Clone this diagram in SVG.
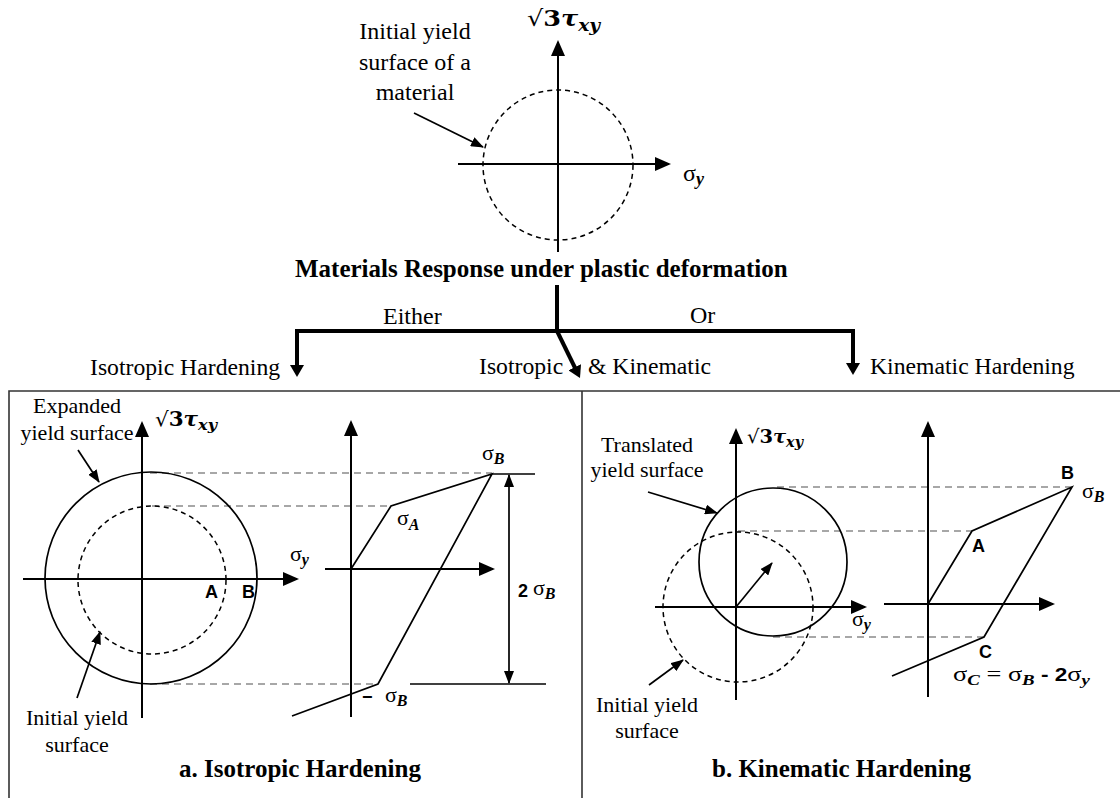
<svg xmlns="http://www.w3.org/2000/svg" width="1120" height="798" viewBox="0 0 1120 798">
<style>
.tx{font-family:"Liberation Serif","Times New Roman",serif;fill:#000}
.b{font-weight:bold}
.c{text-anchor:middle}
.sa{font-family:"Liberation Sans",Arial,sans-serif;font-weight:bold;fill:#000}
.m{font-family:"DejaVu Serif","Liberation Serif",serif;fill:#000}
.sub{font-family:"Liberation Serif","Times New Roman",serif;font-weight:bold;font-style:italic}
.ax{stroke:#000;stroke-width:2;fill:none}
.ln{stroke:#000;stroke-width:1.7;fill:none}
.dc{stroke:#000;stroke-width:1.5;fill:none;stroke-dasharray:5 4}
.gd{stroke:#8a8a8a;stroke-width:1.5;fill:none;stroke-dasharray:7 5}
.th{stroke:#000;stroke-width:4;fill:none}
.bx{stroke:#333;stroke-width:1.6;fill:none}
</style>
<defs>
<marker id="ax" markerUnits="userSpaceOnUse" markerWidth="16" markerHeight="14" refX="14" refY="7" orient="auto"><path d="M0,0 L16,7 L0,14 z" fill="#000"/></marker>
<marker id="sm" markerUnits="userSpaceOnUse" markerWidth="13" markerHeight="10" refX="12" refY="5" orient="auto"><path d="M0,0 L13,5 L0,10 z" fill="#000"/></marker>
<marker id="dbl" markerUnits="userSpaceOnUse" markerWidth="13" markerHeight="10" refX="12" refY="5" orient="auto-start-reverse"><path d="M0,0 L13,5 L0,10 z" fill="#000"/></marker>
<marker id="big" markerUnits="userSpaceOnUse" markerWidth="12" markerHeight="14" refX="2" refY="7" orient="auto"><path d="M0,0 L12,7 L0,14 z" fill="#000"/></marker>
</defs>

<!-- Top: initial yield surface -->
<g id="top-diagram">
  <line class="ax" x1="558" y1="252" x2="558" y2="42" marker-end="url(#ax)"/>
  <line class="ax" x1="458" y1="164" x2="669" y2="164" marker-end="url(#ax)"/>
  <circle class="dc" cx="558" cy="165" r="75"/>
  <text class="m" x="527" y="26" font-size="22" textLength="73" lengthAdjust="spacingAndGlyphs">√<tspan font-weight="bold">3</tspan><tspan font-weight="bold" font-style="italic">τ</tspan><tspan font-weight="bold" font-style="italic" font-size="16" dy="5">xy</tspan></text>
  <text class="tx" x="683" y="181" font-size="24">σ<tspan class="sub" font-size="18" dy="4">y</tspan></text>
  <text class="tx c" x="415" y="39" font-size="24">Initial yield</text>
  <text class="tx c" x="415" y="70" font-size="24">surface of a</text>
  <text class="tx c" x="415" y="100" font-size="24">material</text>
  <line class="ln" x1="414" y1="113" x2="483" y2="147" marker-end="url(#sm)"/>
</g>

<g id="title">
  <text class="tx b" x="295" y="277" font-size="25">Materials Response under plastic deformation</text>
</g>

<g id="branch-labels">
  <text class="tx" x="383" y="324" font-size="24">Either</text>
  <text class="tx" x="690" y="323" font-size="24">Or</text>
  <text class="tx" x="90" y="375" font-size="23.7">Isotropic Hardening</text>
  <text class="tx" x="479" y="374" font-size="23.7">Isotropic</text>
  <text class="tx" x="588" y="374" font-size="23.7">&amp; Kinematic</text>
  <text class="tx" x="870" y="374" font-size="23.7">Kinematic Hardening</text>
</g>

<g id="connectors">
  <line class="th" x1="557" y1="285" x2="557" y2="333"/>
  <line class="th" x1="295" y1="331" x2="855" y2="331"/>
  <line class="th" x1="297" y1="329" x2="297" y2="367" marker-end="url(#big)"/>
  <line class="th" x1="853" y1="329" x2="853" y2="365" marker-end="url(#big)"/>
  <line class="th" x1="557" y1="331" x2="575.6" y2="369" marker-end="url(#big)"/>
</g>

<g id="frames">
  <path class="bx" d="M9,800 V391 H1120"/>
  <path class="bx" d="M582,391 V800"/>
</g>

<!-- Panel a: isotropic hardening -->
<g id="panel-a-yield">
  <line class="gd" x1="150" y1="473" x2="492" y2="473"/>
  <line class="gd" x1="152" y1="506" x2="391" y2="506"/>
  <line class="gd" x1="150" y1="684" x2="378" y2="684"/>
  <line class="ax" x1="142" y1="718" x2="142" y2="423" marker-end="url(#ax)"/>
  <line class="ax" x1="23" y1="579" x2="297" y2="579" marker-end="url(#ax)"/>
  <circle class="ln" cx="151" cy="578" r="106"/>
  <circle class="dc" cx="152" cy="580" r="74"/>
  <text class="m" x="155" y="426" font-size="20" textLength="62" lengthAdjust="spacingAndGlyphs">√<tspan font-weight="bold">3</tspan><tspan font-weight="bold" font-style="italic">τ</tspan><tspan font-weight="bold" font-style="italic" font-size="15" dy="4">xy</tspan></text>
  <text class="tx" x="290" y="561" font-size="22">σ<tspan class="sub" font-size="16" dy="4">y</tspan></text>
  <text class="sa" x="205" y="598" font-size="18">A</text>
  <text class="sa" x="242" y="598" font-size="18">B</text>
  <text class="tx c" x="77" y="413" font-size="22">Expanded</text>
  <text class="tx c" x="77" y="440" font-size="22">yield surface</text>
  <line class="ln" x1="78" y1="450" x2="99" y2="482" marker-end="url(#sm)"/>
  <text class="tx c" x="77" y="725" font-size="22">Initial yield</text>
  <text class="tx c" x="77" y="752" font-size="22">surface</text>
  <line class="ln" x1="77" y1="698" x2="100" y2="632" marker-end="url(#sm)"/>
</g>

<g id="panel-a-curve">
  <line class="ax" x1="351" y1="717" x2="351" y2="422" marker-end="url(#ax)"/>
  <line class="ax" x1="325" y1="569" x2="493" y2="569" marker-end="url(#ax)"/>
  <polyline class="ln" points="351,569 391,506 492,474 378,684 292,716"/>
  <line class="ln" x1="492" y1="474" x2="535" y2="474"/>
  <line class="ln" x1="410" y1="684" x2="546" y2="684"/>
  <line class="ln" x1="509" y1="475" x2="509" y2="683" marker-start="url(#dbl)" marker-end="url(#dbl)"/>
  <text class="tx" x="482" y="460" font-size="22">σ<tspan class="sub" font-size="16" dy="4">B</tspan></text>
  <text class="tx" x="397" y="525" font-size="22">σ<tspan class="sub" font-size="16" dy="5">A</tspan></text>
  <text class="sa" x="518" y="597" font-size="18">2</text>
  <text class="tx" x="533" y="595" font-size="22">σ<tspan class="sub" font-size="16" dy="4">B</tspan></text>
  <text class="sa" x="362" y="703" font-size="18">−</text>
  <text class="tx" x="385" y="702" font-size="22">σ<tspan class="sub" font-size="16" dy="4">B</tspan></text>
</g>

<g id="panel-a-title">
  <text class="tx b" x="179" y="777" font-size="25">a. Isotropic Hardening</text>
</g>

<!-- Panel b: kinematic hardening -->
<g id="panel-b-yield">
  <line class="gd" x1="777" y1="487" x2="1072" y2="487"/>
  <line class="gd" x1="738" y1="531" x2="972" y2="531"/>
  <line class="gd" x1="773" y1="637" x2="984" y2="637"/>
  <line class="ax" x1="736" y1="700" x2="736" y2="430" marker-end="url(#ax)"/>
  <line class="ax" x1="655" y1="607" x2="865" y2="607" marker-end="url(#ax)"/>
  <circle class="ln" cx="773" cy="562" r="74"/>
  <circle class="dc" cx="738" cy="607" r="75"/>
  <line class="ln" x1="736" y1="607" x2="772" y2="563" marker-end="url(#sm)"/>
  <text class="m" x="747" y="443" font-size="19" textLength="56" lengthAdjust="spacingAndGlyphs">√<tspan font-weight="bold">3</tspan><tspan font-weight="bold" font-style="italic">τ</tspan><tspan font-weight="bold" font-style="italic" font-size="14" dy="4">xy</tspan></text>
  <text class="tx" x="852" y="626" font-size="22">σ<tspan class="sub" font-size="16" dy="4">y</tspan></text>
  <text class="tx c" x="647" y="452" font-size="22">Translated</text>
  <text class="tx c" x="647" y="477" font-size="22">yield surface</text>
  <line class="ln" x1="648" y1="492" x2="717" y2="513" marker-end="url(#sm)"/>
  <text class="tx c" x="647" y="712" font-size="22">Initial yield</text>
  <text class="tx c" x="647" y="738" font-size="22">surface</text>
  <line class="ln" x1="649" y1="685" x2="683" y2="660" marker-end="url(#sm)"/>
</g>

<g id="panel-b-curve">
  <line class="ax" x1="928" y1="697" x2="928" y2="423" marker-end="url(#ax)"/>
  <line class="ax" x1="884" y1="604" x2="1053" y2="604" marker-end="url(#ax)"/>
  <polyline class="ln" points="928,604 972,531 1072,487 984,637 892,676"/>
  <text class="sa" x="1061" y="479" font-size="18">B</text>
  <text class="tx" x="1082" y="498" font-size="22">σ<tspan class="sub" font-size="16" dy="4">B</tspan></text>
  <text class="sa" x="972" y="552" font-size="18">A</text>
  <text class="sa" x="979" y="658" font-size="18">C</text>
  <text class="tx" x="953" y="681" font-size="21" textLength="137" lengthAdjust="spacingAndGlyphs">σ<tspan class="sub" font-size="15" dy="4">C</tspan><tspan dy="-4"> = σ</tspan><tspan class="sub" font-size="15" dy="4">B</tspan><tspan class="sa" font-size="18" dy="-4"> - 2</tspan>σ<tspan class="sub" font-size="15" dy="4">y</tspan></text>
</g>

<g id="panel-b-title">
  <text class="tx b" x="712" y="777" font-size="25">b. Kinematic Hardening</text>
</g>
</svg>
